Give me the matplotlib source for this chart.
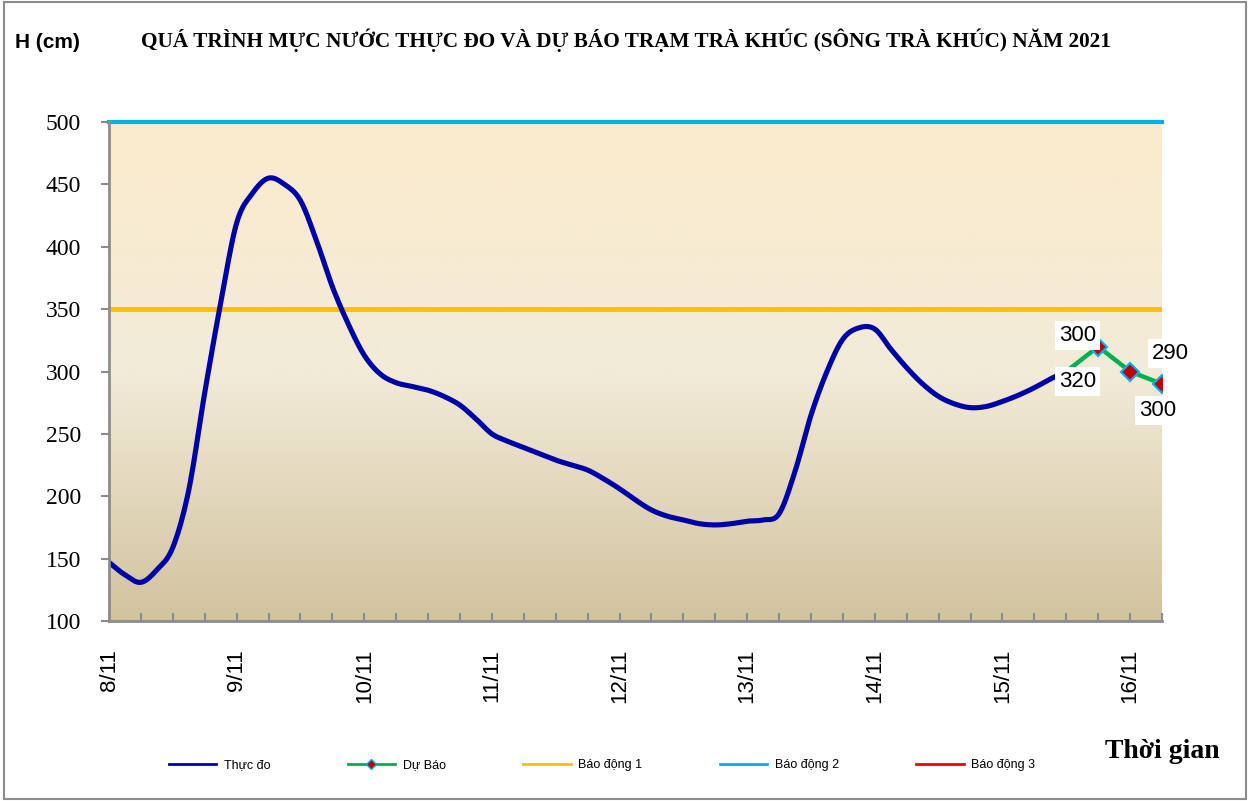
import numpy as np
import matplotlib
matplotlib.use("Agg")
import matplotlib.pyplot as plt
from matplotlib.colors import LinearSegmentedColormap
from matplotlib.lines import Line2D
from matplotlib.patches import Rectangle

# Observed water level (cm), every 3 hours starting 8/11 00h
obs_hours = np.arange(0, 181, 3)
obs_level = [147, 137, 131, 141, 159, 205, 283, 355, 419, 443,
             455, 450, 437, 405, 368, 338, 313, 298, 291, 288,
             285, 280, 273, 262, 250, 244, 239, 234, 229, 225,
             221, 214, 206, 197, 189, 184, 181, 178, 177, 178,
             180, 181, 186, 220, 265, 300, 326, 335, 334, 318,
             303, 290, 280, 274, 271, 272, 276, 281, 287, 294,
             300]

# Forecast
fc_hours = [180, 186, 192, 198]
fc_level = [300, 320, 300, 290]

# alarm levels
bd1 = 350
bd2 = 500

day_labels = ["8/11", "9/11", "10/11", "11/11", "12/11", "13/11", "14/11", "15/11", "16/11"]

DARK_BLUE = "#0000A8"
GREEN = "#00B050"
YELLOW = "#FFC000"
SKY = "#00B0F0"
RED = "#FF0000"
GRAY = "#8C8C8C"


def to_days(hours):
    return np.asarray(hours, dtype=float) / 24.0


def smooth(x, y, n=10):
    # Catmull-Rom curve through the points, like Excel's "smoothed line"
    x = np.asarray(x, dtype=float)
    y = np.asarray(y, dtype=float)
    px = np.concatenate([[2 * x[0] - x[1]], x, [2 * x[-1] - x[-2]]])
    py = np.concatenate([[2 * y[0] - y[1]], y, [2 * y[-1] - y[-2]]])
    t = np.linspace(0, 1, n, endpoint=False)
    xs, ys = [], []
    for i in range(1, len(px) - 2):
        for p, out in ((px, xs), (py, ys)):
            p0, p1, p2, p3 = p[i - 1], p[i], p[i + 1], p[i + 2]
            out.extend(0.5 * (2 * p1 + (-p0 + p2) * t
                              + (2 * p0 - 5 * p1 + 4 * p2 - p3) * t ** 2
                              + (-p0 + 3 * p1 - 3 * p2 + p3) * t ** 3))
    xs.append(x[-1])
    ys.append(y[-1])
    return np.array(xs), np.array(ys)


fig = plt.figure(figsize=(12.51, 8.01), dpi=100)
ax = fig.add_axes([109 / 1251, 1 - 621 / 801, (1162 - 109) / 1251, (621 - 122) / 801])

xmax = 8.25
ax.set_xlim(0, xmax)
ax.set_ylim(100, 500)

# gradient background of the plot area
cmap = LinearSegmentedColormap.from_list("bg", ["#D2C39F", "#F2EBD8", "#FCEBCD"])
grad = np.linspace(0, 1, 256).reshape(-1, 1)
ax.imshow(grad, extent=[0, xmax, 100, 500], origin="lower", aspect="auto",
          cmap=cmap, zorder=0)

ax.axhline(bd2, color=SKY, lw=3, zorder=2, clip_on=False)
ax.axhline(bd1, color=YELLOW, lw=3.5, zorder=2)

sx, sy = smooth(to_days(obs_hours), obs_level)
ax.plot(sx, sy, color=DARK_BLUE, lw=3.7,
        solid_joinstyle="round", solid_capstyle="round", zorder=3)
ax.plot(to_days(fc_hours), fc_level, color=GREEN, lw=3.2, zorder=3)
ax.plot(to_days(fc_hours[1:]), fc_level[1:], ls="none", marker="D", ms=9,
        mfc="#C00000", mec=SKY, mew=1.5, zorder=4)

# data labels
lab_kw = dict(fontsize=16, family="Liberation Sans", ha="center", va="center",
              bbox=dict(facecolor="white", edgecolor="none", pad=3), zorder=6)
ax.annotate("300", (to_days(fc_hours[1]), fc_level[1]), xytext=(-15, 8),
            textcoords="offset points", **lab_kw)
ax.annotate("320", (to_days(fc_hours[1]), fc_level[1]), xytext=(-15, -25),
            textcoords="offset points", **lab_kw)
ax.annotate("290", (to_days(fc_hours[3]), fc_level[3]), xytext=(6, 22),
            textcoords="offset points", **lab_kw)
ax.annotate("300", (to_days(fc_hours[3]), fc_level[3]), xytext=(-3, -19),
            textcoords="offset points", **lab_kw)

# axes styling
for s in ["top", "right"]:
    ax.spines[s].set_visible(False)
for s in ["left", "bottom"]:
    ax.spines[s].set_color(GRAY)
    ax.spines[s].set_linewidth(2)
    ax.spines[s].set_zorder(5)

ax.set_yticks(np.arange(100, 501, 50))
ax.tick_params(axis="y", direction="out", length=6, width=1.5, color=GRAY,
               labelsize=17, pad=14)
for t in ax.get_yticklabels():
    t.set_family("Liberation Serif")

ax.set_xticks(np.arange(len(day_labels)))
ax.set_xticklabels(day_labels, rotation=90, family="Liberation Sans", fontsize=16)
ax.set_xticks(np.arange(0, xmax + 0.01, 0.25), minor=True)
ax.tick_params(axis="x", which="both", direction="in", length=6, width=1.5,
               color=GRAY, pad=20)

# titles
fig.text(15 / 1251, 1 - 43 / 801, "H (cm)", fontsize=15, fontweight="bold",
         family="Liberation Sans", va="center", ha="left")
fig.text(626 / 1251, 1 - 40 / 801,
         "QUÁ TRÌNH MỰC NƯỚC THỰC ĐO VÀ DỰ BÁO TRẠM TRÀ KHÚC (SÔNG TRÀ KHÚC) NĂM 2021",
         fontsize=15.3, fontweight="bold", family="Liberation Serif",
         ha="center", va="center")
fig.text(1162 / 1251, 1 - 752 / 801, "Thời gian", fontsize=20, fontweight="bold",
         family="Liberation Serif", ha="center", va="center")

# legend
handles = [
    Line2D([], [], color=DARK_BLUE, lw=2),
    Line2D([], [], color=GREEN, lw=2, marker="D", ms=5, mfc="#C00000", mec=SKY),
    Line2D([], [], color=YELLOW, lw=2),
    Line2D([], [], color=SKY, lw=2),
    Line2D([], [], color=RED, lw=2),
]
names = ["Thực đo", "Dự Báo", "Báo động 1", "Báo động 2", "Báo động 3"]
fig.legend(handles, names, loc="center", bbox_to_anchor=(602 / 1251, 1 - 765 / 801),
           ncol=5, frameon=False, handlelength=3.8, handletextpad=0.6,
           columnspacing=6.2, prop={"family": "Liberation Sans", "size": 9})

# outer frame
fig.patches.append(Rectangle((0.003, 0.003), 0.993, 0.994, transform=fig.transFigure,
                             fill=False, edgecolor=GRAY, lw=1.5))

fig.savefig("out.png", dpi=100)
